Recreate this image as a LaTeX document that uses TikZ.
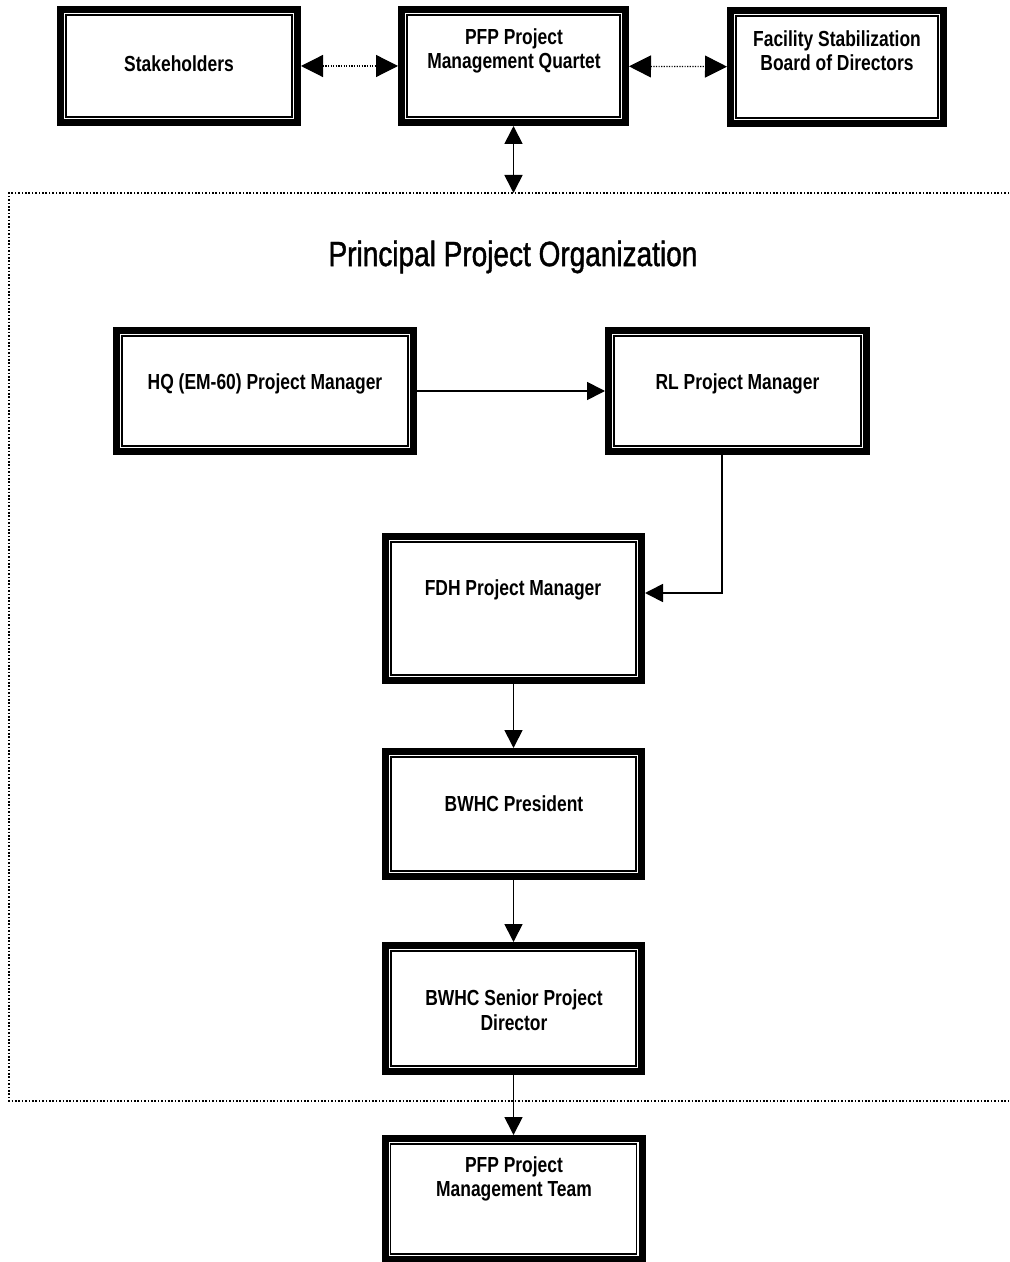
\documentclass[tikz,border=0pt]{standalone}
\usepackage{fontspec}
\setmainfont{Liberation Sans}[FakeStretch=0.8]
\newfontfamily\headfont{Liberation Sans}[FakeStretch=0.8, FakeBold=1.2]
\usetikzlibrary{arrows.meta,calc}

\tikzset{
  % framed box: heavy outer rule, thin inner rule
  obox/.style 2 args={
    draw=black, line width=3.5pt, outer sep=1.75pt, inner sep=0pt, fill=white,
    minimum width={#1*0.5pt-3.5pt}, minimum height={#2*0.5pt-3.5pt},
    path picture={
      \draw[line width=0.75pt]
        ([shift={(2.8pt,2.8pt)}]path picture bounding box.south west) rectangle
        ([shift={(-2.8pt,-2.8pt)}]path picture bounding box.north east);
    }
  },
  lbl/.style={font=\bfseries\fontsize{10.9}{12.2}\selectfont, align=center, inner sep=0pt},
  flow/.style={line width=0.85pt, -{Triangle[length=9pt,width=9pt]}},
  both/.style={line width=0.85pt, {Triangle[length=9pt,width=9pt]}-{Triangle[length=9pt,width=9pt]}},
  link/.style={line width=0.6pt, dash pattern=on 0.6pt off 0.7pt,
    {Triangle[length=11pt,width=11pt,sep=0pt]}-{Triangle[length=11pt,width=11pt]}},
  frame/.style={line width=0.8pt, dash pattern=on 0.8pt off 0.9pt},
}

\begin{document}
\begin{tikzpicture}[x=0.5pt, y=-0.5pt]
\useasboundingbox (0,0) rectangle (1010,1262);

% outer organisation frame
\draw[frame] (1016,193) -- (9,193) -- (9,1101) -- (1016,1101);
\coordinate (frametop) at (513.5,193);
\node[font=\headfont\fontsize{17.5}{20}\selectfont, inner sep=0pt] (title) at (513,257) {Principal Project Organization};

% top row
\node[obox={244}{120}] (stake) at (179,66) {};
\node[obox={231}{120}] (quartet) at (513.5,66) {};
\node[obox={220}{120}] (board) at (837,67) {};
\node[lbl] (stake-t) at (179,64) {Stakeholders};
\node[lbl] (quartet-t) at (514,51) {PFP Project\\Management Quartet};
\node[lbl] (board-t) at (837,51) {Facility Stabilization\\Board of Directors};

% managers
\node[obox={304}{128}] (hq) at (265,391) {};
\node[obox={265}{128}] (rl) at (737.5,391) {};
\node[obox={263}{151}] (fdh) at (513.5,608.5) {};
\node[obox={263}{132}] (pres) at (513.5,814) {};
\node[obox={263}{133}] (senior) at (513.5,1008.5) {};
\node[obox={264}{128}] (team) at (513.5,1199) {};

\node[lbl] (hq-t) at (265,384) {HQ (EM-60) Project Manager};
\node[lbl] (rl-t) at (737.5,384) {RL Project Manager};
\node[lbl] (fdh-t) at (513,590) {FDH Project Manager};
\node[lbl] (pres-t) at (514,804) {BWHC President};
\node[lbl] (senior-t) at (514,1010) {BWHC Senior Project\\Director};
\node[lbl] (team-t) at (514,1179) {PFP Project\\Management Team};

% connectors
\draw[link] (stake) -- (quartet);
\draw[link] (quartet) -- (board);
\draw[both] (quartet.south) -- (frametop);
\draw[flow] (hq) -- (rl);
\coordinate (rlout) at (722,455);
\draw[flow] (rlout) |- ([yshift=7.75pt]fdh.east);
\draw[flow] (fdh) -- (pres);
\draw[flow] (pres) -- (senior);
\draw[flow] (senior) -- (team);
\end{tikzpicture}
\end{document}
